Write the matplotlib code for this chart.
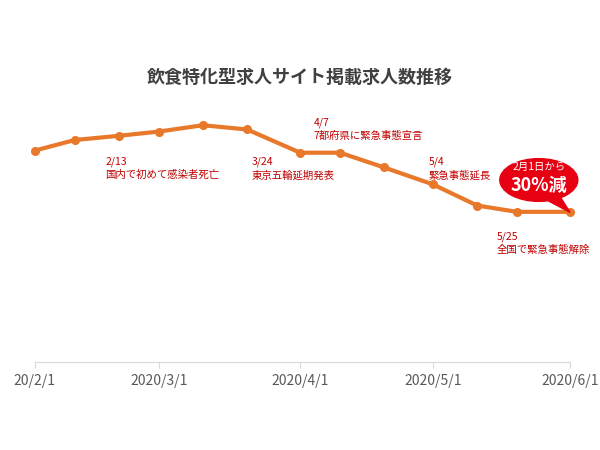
import matplotlib
matplotlib.use("Agg")
import matplotlib.pyplot as plt
from matplotlib.patches import Ellipse, Polygon

plt.rcParams['font.family'] = ['Noto Sans CJK JP', 'DejaVu Sans']

days = [0, 9, 19, 28, 38, 48, 60, 69, 79, 90, 100, 109, 121]
values = [100, 105, 107, 109, 112, 110, 99, 99, 92, 84, 74, 71, 71]
tick_days = [0, 28, 60, 90, 121]
tick_labels = ["20/2/1", "2020/3/1", "2020/4/1", "2020/5/1", "2020/6/1"]
events = [(16, "2/13\n国内で初めて感染者死亡", 97),
          (49, "3/24\n東京五輪延期発表", 97),
          (63, "4/7\n7都府県に緊急事態宣言", 115.5),
          (89, "5/4\n緊急事態延長", 97),
          (104.5, "5/25\n全国で緊急事態解除", 61.5)]

fig = plt.figure(figsize=(6, 4.5), dpi=100)
ax = fig.add_axes([0.058, 0.196, 0.892, 0.582])
ax.plot(days, values, color="#E8782A", lw=3, marker="o", ms=5.5, zorder=3, clip_on=False)
ax.set_xlim(0, 121)
ax.set_ylim(0, 124)
for s in ["top", "right", "left"]:
    ax.spines[s].set_visible(False)
ax.spines["bottom"].set_color("#d9d9d9")
ax.set_yticks([])
ax.set_xticks(tick_days)
ax.set_xticklabels(tick_labels, fontsize=10, color="#595959")
ax.tick_params(axis="x", length=4, color="#d9d9d9", pad=5)
for d, t, y in events:
    ax.text(d, y, t, fontsize=7.5, color="#C00000", va="top", ha="left", linespacing=1.3)

fig.text(0.5, 0.815, "飲食特化型求人サイト掲載求人数推移", ha="center", fontsize=13,
         fontweight="bold", color="#404040")

# callout bubble
fig.patches.append(Ellipse((0.898, 0.6), 0.13, 0.095, transform=fig.transFigure,
                           color="#E60012", zorder=5))
fig.patches.append(Polygon([[0.905, 0.56], [0.935, 0.56], [0.95, 0.528]],
                           transform=fig.transFigure, color="#E60012", zorder=5))
fig.text(0.898, 0.628, "2月1日から", ha="center", va="center", fontsize=7.5, color="white", zorder=6)
fig.text(0.898, 0.588, "30%減", ha="center", va="center", fontsize=13, fontweight="bold",
         color="white", zorder=6)

fig.savefig("out.png", dpi=100)
